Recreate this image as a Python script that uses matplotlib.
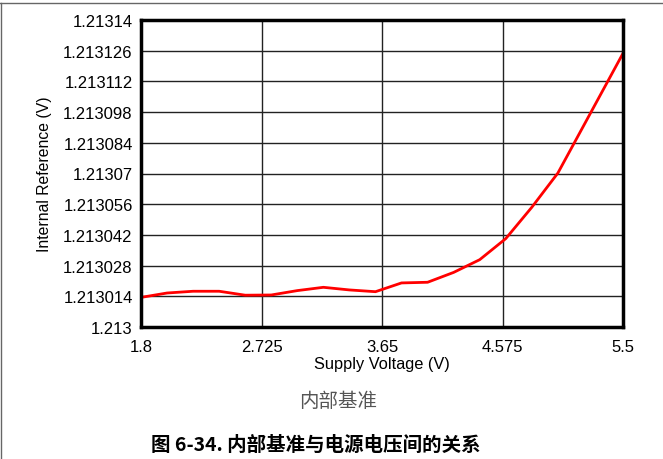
import matplotlib
matplotlib.use("Agg")
import matplotlib.pyplot as plt
from matplotlib.lines import Line2D

# Data (supply voltage in V, internal reference in V)
voltage = [1.8, 2.0, 2.2, 2.4, 2.6, 2.8, 3.0, 3.2, 3.4, 3.6, 3.8, 4.0, 4.2, 4.4, 4.6, 4.8, 5.0, 5.5]
offset_uv = [13.5, 15.5, 16.3, 16.3, 14.5, 14.6, 16.6, 18.1, 16.9, 16.1, 20.1, 20.4, 24.9, 30.7, 40.3, 54.6, 70.2, 124.8]
reference = [1.213 + u * 1e-6 for u in offset_uv]

x_ticks = [1.8, 2.725, 3.65, 4.575, 5.5]
x_tick_labels = ["1.8", "2.725", "3.65", "4.575", "5.5"]
y_ticks = [1.213, 1.213014, 1.213028, 1.213042, 1.213056, 1.21307, 1.213084,
           1.213098, 1.213112, 1.213126, 1.21314]
y_tick_labels = ["1.213", "1.213014", "1.213028", "1.213042", "1.213056", "1.21307",
                 "1.213084", "1.213098", "1.213112", "1.213126", "1.21314"]

x_label = "Supply Voltage (V)"
y_label = "Internal Reference (V)"
subtitle = "内部基准"
caption = "图 6-34. 内部基准与电源电压间的关系"

W, H = 663, 460
fig = plt.figure(figsize=(W / 100, H / 100), dpi=100)
fig.patch.set_facecolor("white")

left, right, top, bottom = 141, 623, 21, 328
ax = fig.add_axes([left / W, (H - bottom) / H, (right - left) / W, (bottom - top) / H])

ax.plot(voltage, reference, color="#ff0000", linewidth=2.0, zorder=3)
ax.set_xlim(1.8, 5.5)
ax.set_ylim(1.213, 1.21314)
ax.set_xticks(x_ticks)
ax.set_xticklabels(x_tick_labels)
ax.set_yticks(y_ticks)
ax.set_yticklabels(y_tick_labels)
ax.grid(True, color="#222222", linewidth=1.0)
ax.tick_params(length=0, labelsize=12)
ax.tick_params(axis="x", pad=9)
ax.tick_params(axis="y", pad=6)
for lab in ax.get_xticklabels() + ax.get_yticklabels():
    lab.set_fontfamily("Liberation Sans")
for s in ax.spines.values():
    s.set_linewidth(2.5)
    s.set_color("black")
    s.set_zorder(4)

ax.set_xlabel(x_label, fontsize=11.8, family="Liberation Sans", labelpad=1)
ax.set_ylabel(y_label, fontsize=11.3, family="Liberation Sans", labelpad=8)

fig.text(338 / W, 1 - 402 / H, subtitle, ha="center", va="center", fontsize=14,
         color="#555555", family=["Noto Sans CJK SC", "DejaVu Sans"])
fig.text(316 / W, 1 - 445 / H, caption, ha="center", va="center", fontsize=14,
         fontweight="bold", color="black", family=["Noto Sans CJK SC", "DejaVu Sans"])

# page-like border lines
fig.add_artist(Line2D([0, 1], [1 - 4 / H, 1 - 4 / H], transform=fig.transFigure,
                      color="#666666", linewidth=1.0))
fig.add_artist(Line2D([1 / W, 1 / W], [0, 1 - 4 / H], transform=fig.transFigure,
                      color="#666666", linewidth=1.0))

fig.savefig("out.png", dpi=100)
